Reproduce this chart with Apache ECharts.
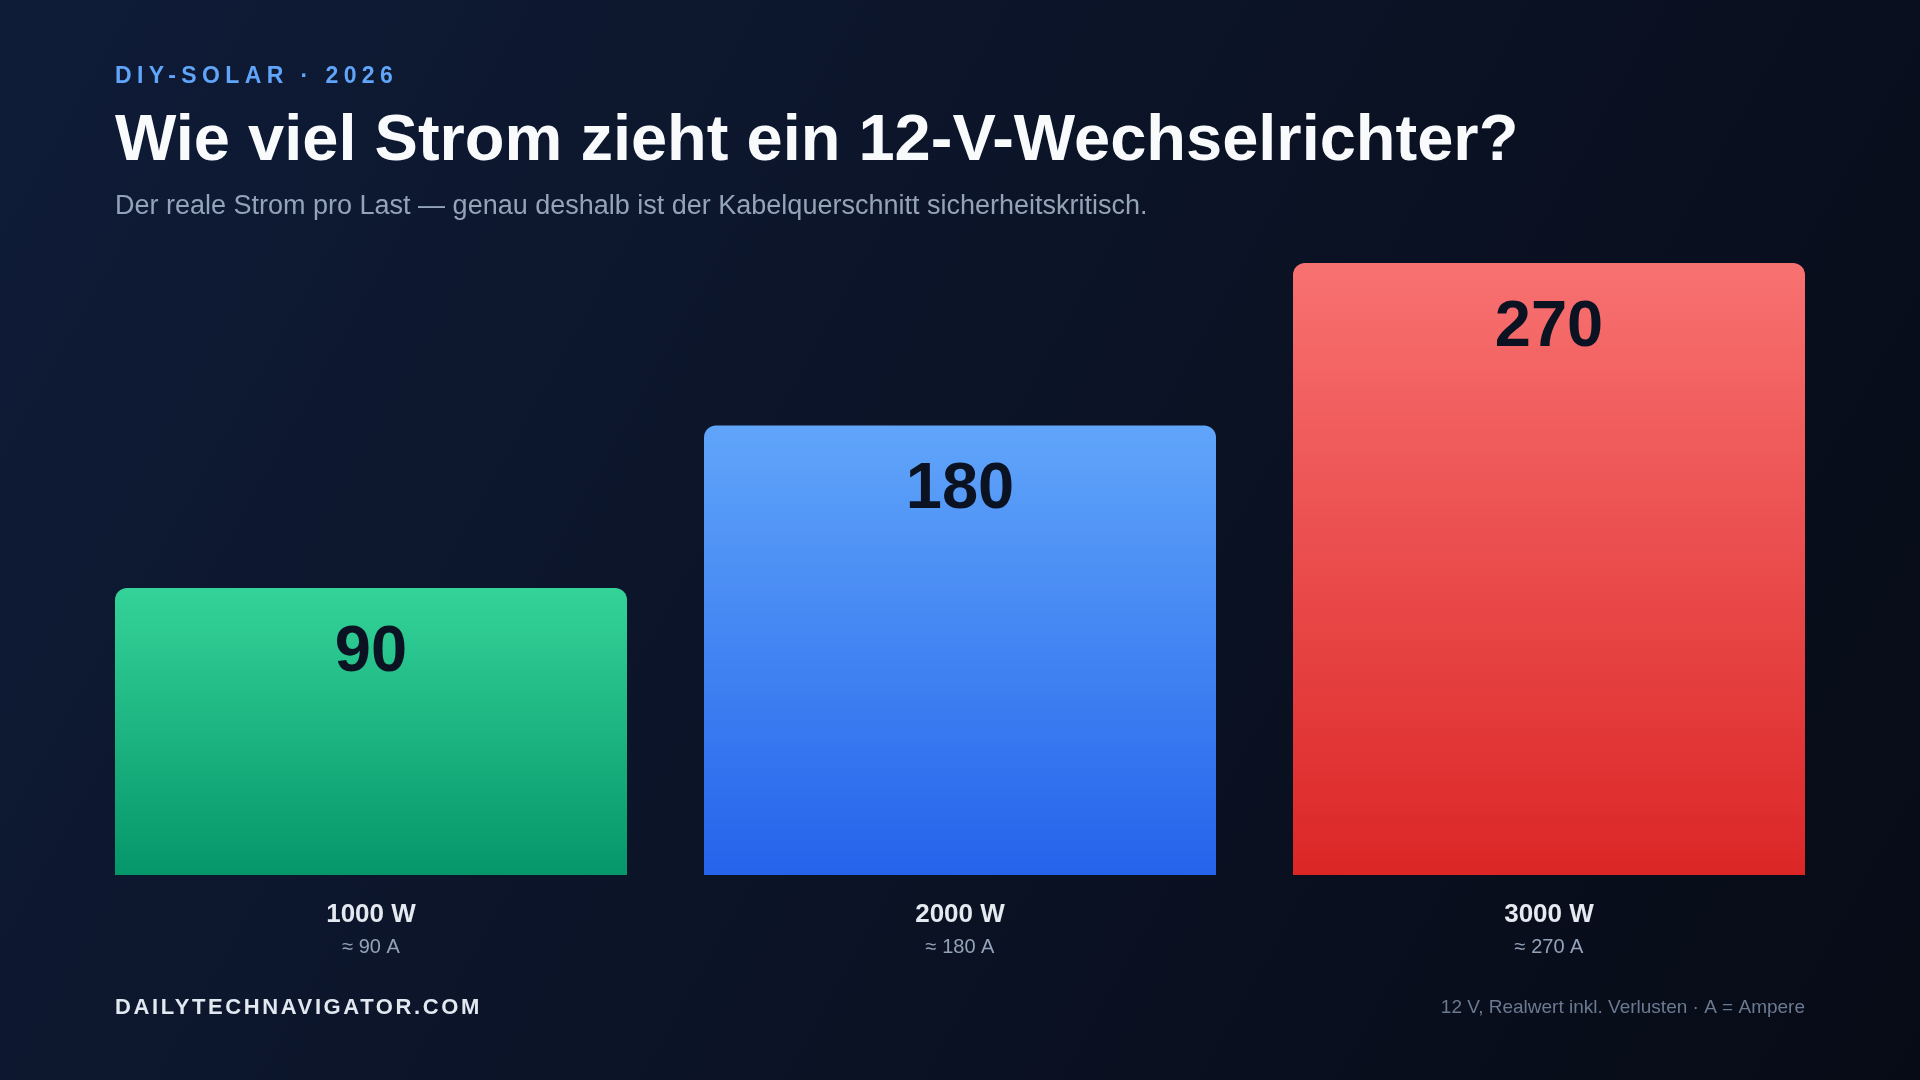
<!DOCTYPE html>
<html>
<head>
<meta charset="utf-8">
<script src="https://cdn.jsdelivr.net/npm/echarts@6/dist/echarts.min.js"></script>
<style>
  html, body { margin: 0; padding: 0; width: 1920px; height: 1080px; overflow: hidden; background: #0b1224; }
  #chart { position: absolute; left: 0; top: 0; width: 1920px; height: 1080px; }
  .spaced { position: absolute; font-family: "Liberation Sans", Arial, sans-serif; font-weight: bold; white-space: nowrap; }
  #kicker { left: 115px; top: 62px; font-size: 23px; letter-spacing: 5.4px; color: #60a5fa; line-height: 26px; }
  #brand { left: 115px; top: 994px; font-size: 22px; letter-spacing: 2.6px; color: #e2e8f0; line-height: 25px; }
</style>
</head>
<body>
<div id="chart"></div>
<div id="kicker" class="spaced">DIY-SOLAR · 2026</div>
<div id="brand" class="spaced">DAILYTECHNAVIGATOR.COM</div>
<script>
// ---- data ----
const categories = ['1000 W', '2000 W', '3000 W'];
const amps = [90, 180, 270];
const ampLabels = ['≈ 90 A', '≈ 180 A', '≈ 270 A'];
const colorsTop = ['#34d399', '#60a5fa', '#f87171'];
const colorsBottom = ['#059669', '#2563eb', '#dc2626'];
const titleText = 'Wie viel Strom zieht ein 12-V-Wechselrichter?';
const subtitleText = 'Der reale Strom pro Last — genau deshalb ist der Kabelquerschnitt sicherheitskritisch.';
const footnoteText = '12 V, Realwert inkl. Verlusten · A = Ampere';

// axis range (baseline of the bars sits at Y_MIN)
const Y_MIN = -69;
const Y_MAX = 270;
const BAR_RATIO = 512 / 589;
const FONT = '"Liberation Sans", Arial, sans-serif';

const chart = echarts.init(document.getElementById('chart'), null, { renderer: 'canvas' });

const option = {
  backgroundColor: new echarts.graphic.LinearGradient(0, 0, 1, 1, [
    { offset: 0, color: '#0f1c38' },
    { offset: 0.5, color: '#0b1326' },
    { offset: 1, color: '#070b16' }
  ]),
  animation: false,
  grid: { left: 76.5, right: 76.5, top: 263, bottom: 205, containLabel: false },
  xAxis: {
    type: 'category',
    data: categories,
    boundaryGap: true,
    axisLine: { show: false },
    axisTick: { show: false },
    splitLine: { show: false },
    axisLabel: {
      margin: 25,
      formatter: (val, idx) => '{a|' + val + '}\n{b|' + ampLabels[idx] + '}',
      rich: {
        a: { fontFamily: FONT, fontWeight: 'bold', fontSize: 26, color: '#e5e9f0', lineHeight: 30 },
        b: { fontFamily: FONT, fontSize: 20, color: '#94a3b8', lineHeight: 34 }
      }
    }
  },
  yAxis: {
    type: 'value',
    min: Y_MIN,
    max: Y_MAX,
    show: false,
    splitLine: { show: false }
  },
  series: [{
    type: 'custom',
    data: amps.map((v, i) => [i, v]),
    encode: { x: 0, y: 1 },
    renderItem: (params, api) => {
      const i = api.value(0);
      const v = api.value(1);
      const top = api.coord([i, v]);
      const base = api.coord([i, Y_MIN]);
      const w = api.size([1, 0])[0] * BAR_RATIO;
      return {
        type: 'group',
        children: [
          {
            type: 'rect',
            shape: { x: top[0] - w / 2, y: top[1], width: w, height: base[1] - top[1], r: [12, 12, 0, 0] },
            style: {
              fill: new echarts.graphic.LinearGradient(0, 0, 0, 1, [
                { offset: 0, color: colorsTop[i] },
                { offset: 1, color: colorsBottom[i] }
              ])
            }
          },
          {
            type: 'text',
            style: {
              text: String(v),
              x: top[0],
              y: top[1] + 65,
              align: 'center',
              verticalAlign: 'middle',
              fontFamily: FONT,
              fontWeight: 'bold',
              fontSize: 65,
              fill: '#0b1222'
            }
          }
        ]
      };
    }
  }],
  graphic: [
    {
      type: 'text', left: 115, top: 110,
      style: { text: titleText, fontFamily: FONT, fontWeight: 'bold', fontSize: 65, fill: '#f8fafc' }
    },
    {
      type: 'text', left: 115, top: 193,
      style: { text: subtitleText, fontFamily: FONT, fontSize: 27, fill: '#94a3b8' }
    },
    {
      type: 'text', right: 115, top: 998,
      style: { text: footnoteText, fontFamily: FONT, fontSize: 19, fill: '#6b7a90' }
    }
  ]
};

chart.setOption(option);
</script>
</body>
</html>
